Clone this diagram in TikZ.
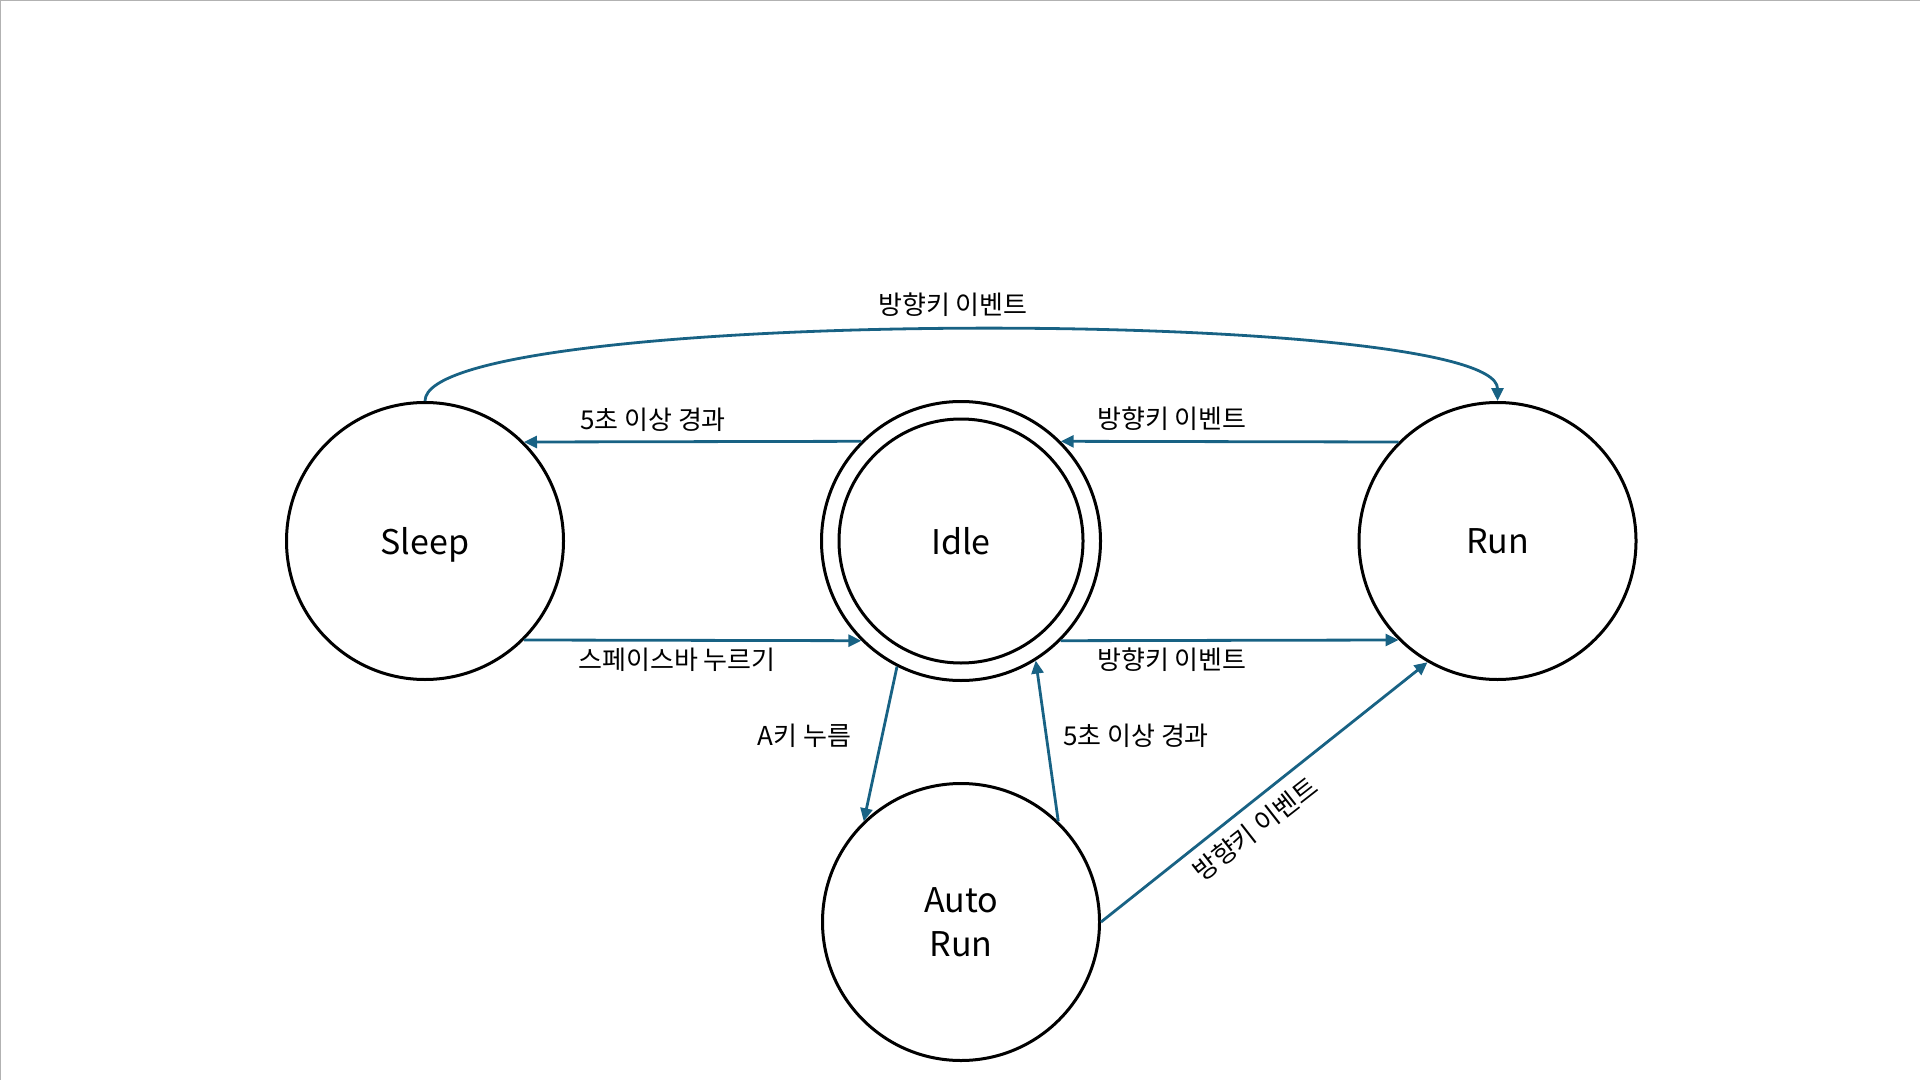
\documentclass[tikz,border=0pt]{standalone}
\usepackage{fontspec}
\setmainfont{Noto Sans CJK KR}
\usetikzlibrary{arrows.meta}
\definecolor{arrowblue}{RGB}{24,98,132}

\begin{document}
\begin{tikzpicture}[x=0.5pt, y=-0.5pt,
        state/.style={circle, draw, line width=1.5pt, minimum size=138.5pt, inner sep=0pt,
            text depth=0pt, align=center, font=\fontsize{17}{22}\selectfont},
        trans/.style={-{Triangle[length=6.5pt, width=6pt]}, draw=arrowblue, line width=1.4pt},
        lbl/.style={inner sep=0pt, font=\fontsize{13}{15}\selectfont}]
            \useasboundingbox (0, 0) rectangle (1920, 1080);
            \draw [gray!60, line width=1pt] (0, 1080) -- (0, 0) -- (1920, 0);

            \node[state] at (425, 541)   (sleep) {Sleep};
            \node[state, minimum size=139.5pt] at (961, 541)   (idle) {Idle};
            \node[circle, draw, line width=1.5pt, minimum size=122pt] at (961, 541) (idle_in) {};
            \node[state] at (1497.5, 541)   (run) {Run};
            \node[state] at (961, 922)   (auto) {Auto\\Run};

            \draw [trans] (idle.135) -- (sleep.45);
            \draw [trans] (sleep.-45) -- (idle.-135);
            \draw [trans] (run.135) -- (idle.45);
            \draw [trans] (idle.-45) -- (run.-135);
            \draw [trans] (idle.243) -- (auto.134);
            \draw [trans] (auto.46) -- (idle.302);
            \draw [trans] (auto.east) -- (run.240);
            \draw [trans] (sleep.north) .. controls +(0, -95) and +(0, -95) .. (run.north);

            \node[lbl] at (953, 305)   (l_top) {방향키 이벤트};
            \node[lbl] at (653, 420)   (l_sleep) {5초 이상 경과};
            \node[lbl] at (1172, 419)   (l_idle) {방향키 이벤트};
            \node[lbl] at (677, 660)   (l_space) {스페이스바 누르기};
            \node[lbl] at (1172, 660)   (l_run) {방향키 이벤트};
            \node[lbl] at (804.5, 736)   (l_akey) {A키 누름};
            \node[lbl] at (1136, 736)   (l_back) {5초 이상 경과};
            \node[lbl, rotate=38] at (1255, 829)   (l_auto) {방향키 이벤트};
        \end{tikzpicture}
\end{document}
